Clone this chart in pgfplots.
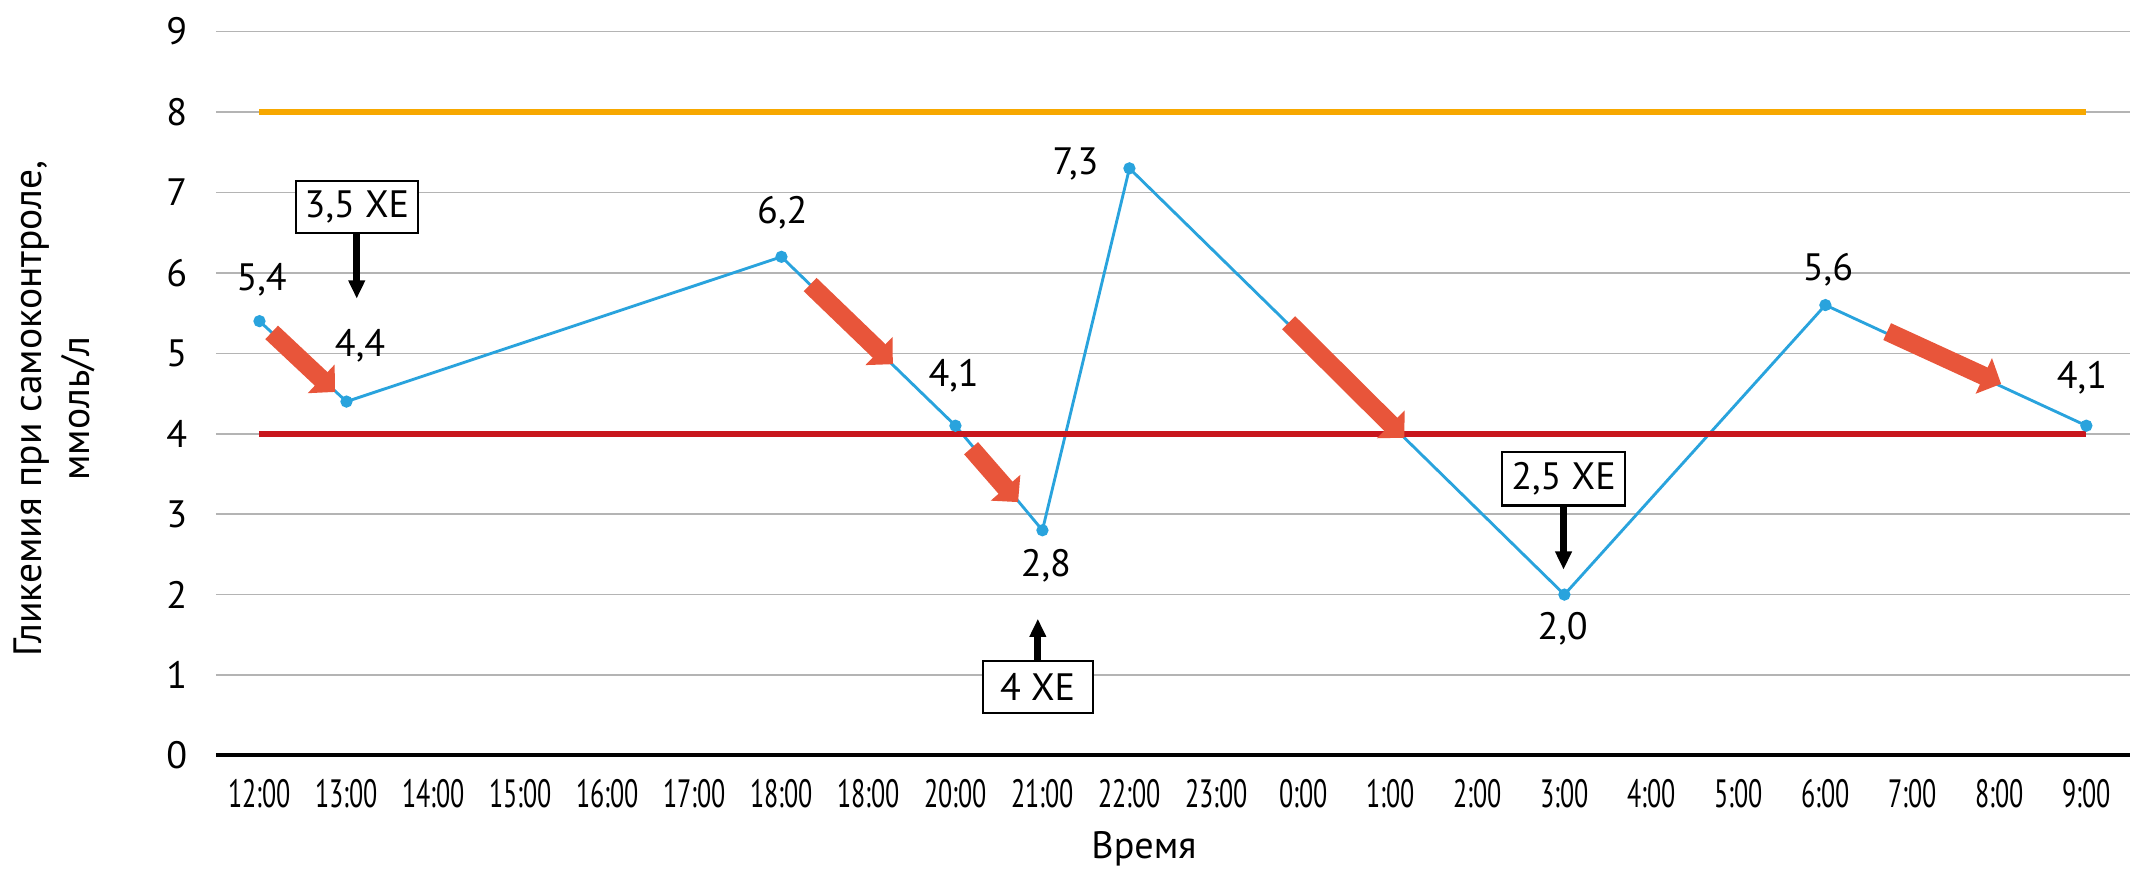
\documentclass[border=0pt]{standalone}
\usepackage{fontspec}
\setmainfont{PT Sans}
\usepackage{pgfplots}
\usepackage{pgfplotstable}
\pgfplotsset{compat=1.18}
\usetikzlibrary{arrows.meta}
\definecolor{lineblue}{HTML}{29A3DD}
\definecolor{lvlorange}{HTML}{F7A800}
\definecolor{lvlred}{HTML}{C8161D}
\definecolor{arrred}{HTML}{E8553A}
\definecolor{gridgray}{HTML}{B4B4B4}
\newcommand{\cx}[1]{\scalebox{0.66}[1]{#1}}
\pgfplotstableread{
x y
0 5.4
1 4.4
6 6.2
8 4.1
9 2.8
10 7.3
15 2.0
18 5.6
21 4.1
}\glucose
\begin{document}
\begin{tikzpicture}[font=\fontsize{14}{17}\selectfont]
\begin{axis}[
  width=702.25pt, height=265.6pt, scale only axis,
  xmin=-0.5, xmax=21.5, ymin=0, ymax=9,
  clip=false,
  axis line style={draw=none},
  major tick length=0pt,
  ytick={0,1,...,9},
  xtick={0,1,...,21},
  xticklabels={\cx{12:00},\cx{13:00},\cx{14:00},\cx{15:00},\cx{16:00},\cx{17:00},\cx{18:00},\cx{18:00},\cx{20:00},\cx{21:00},\cx{22:00},\cx{23:00},\cx{0:00},\cx{1:00},\cx{2:00},\cx{3:00},\cx{4:00},\cx{5:00},\cx{6:00},\cx{7:00},\cx{8:00},\cx{9:00}},
  ymajorgrids, grid style={gridgray, line width=0.55pt},
  yticklabel style={anchor=east, xshift=-7pt, font=\fontsize{14}{17}\selectfont},
  xticklabel style={anchor=base, yshift=-19.1pt, font=\fontsize{14.5}{17}\selectfont},
  /pgf/number format/assume math mode=true,
  xlabel={Время},
  xlabel style={at={(axis description cs:0.4849,-0.1423)}, anchor=base, font=\fontsize{14}{17}\selectfont},
  ylabel={Гликемия при самоконтроле,\\ммоль/л},
  ylabel style={at={(axis description cs:-0.0844,0.479)}, anchor=center, align=center, font=\fontsize{14.5}{17.8}\selectfont},
]
\addplot[lineblue, line width=1.05pt, mark=*, mark size=1.7pt, mark options={fill=lineblue, draw=lineblue}] table[x=x,y=y] {\glucose};
\addplot[lvlorange, line width=2.3pt] coordinates {(0,8) (21,8)};
\addplot[lvlred, line width=2.3pt] coordinates {(0,4) (21,4)};
% red trend arrows
\draw[arrred, line width=6.8pt, -{Triangle[length=7pt,width=14pt]}] (axis cs:0.14,5.26) -- (axis cs:0.869,4.52);
\draw[arrred, line width=6.8pt, -{Triangle[length=7pt,width=14pt]}] (axis cs:6.33,5.855) -- (axis cs:7.28,4.865);
\draw[arrred, line width=6.8pt, -{Triangle[length=7pt,width=14pt]}] (axis cs:8.18,3.82) -- (axis cs:8.72,3.15);
\draw[arrred, line width=6.8pt, -{Triangle[length=7pt,width=14pt]}] (axis cs:11.83,5.38) -- (axis cs:13.16,3.95);
\draw[arrred, line width=6.8pt, -{Triangle[length=7pt,width=14pt]}] (axis cs:18.71,5.27) -- (axis cs:20.02,4.62);
% bread unit boxes
\draw[black, line width=2.45pt, -{Triangle[length=6.7pt,width=5.8pt]}] (axis cs:1.118,6.50) -- (axis cs:1.118,5.68);
\node[draw, line width=0.75pt, fill=white, minimum width=45pt, minimum height=19pt, inner sep=0pt] at (axis cs:1.12,6.82) {3,5 ХЕ};
\draw[black, line width=2.45pt, -{Triangle[length=6.7pt,width=5.8pt]}] (axis cs:8.947,1.175) -- (axis cs:8.947,1.70);
\node[draw, line width=0.75pt, fill=white, minimum width=40.4pt, minimum height=19.3pt, inner sep=0pt] at (axis cs:8.945,0.85) {4 ХЕ};
\draw[black, line width=2.45pt, -{Triangle[length=6.7pt,width=5.8pt]}] (axis cs:14.99,3.11) -- (axis cs:14.99,2.31);
\node[draw, line width=0.75pt, fill=white, minimum width=45.3pt, minimum height=19.6pt, inner sep=0pt] at (axis cs:14.99,3.44) {2,5 ХЕ};
% data labels
\node at (axis cs:0.025,5.91) {5,4};
\node at (axis cs:1.156,5.10) {4,4};
\node at (axis cs:6.01,6.75) {6,2};
\node at (axis cs:7.98,4.72) {4,1};
\node at (axis cs:9.04,2.36) {2,8};
\node at (axis cs:9.38,7.35) {7,3};
\node at (axis cs:14.98,1.58) {2,0};
\node at (axis cs:18.03,6.04) {5,6};
\node at (axis cs:20.95,4.70) {4,1};
% bottom axis line
\draw[black, line width=1.45pt] (rel axis cs:0,0) -- (rel axis cs:1,0);
\end{axis}
\pgfresetboundingbox
\useasboundingbox (-79.25pt,-46pt) rectangle (705.6pt,277.2pt);
\end{tikzpicture}
\end{document}
